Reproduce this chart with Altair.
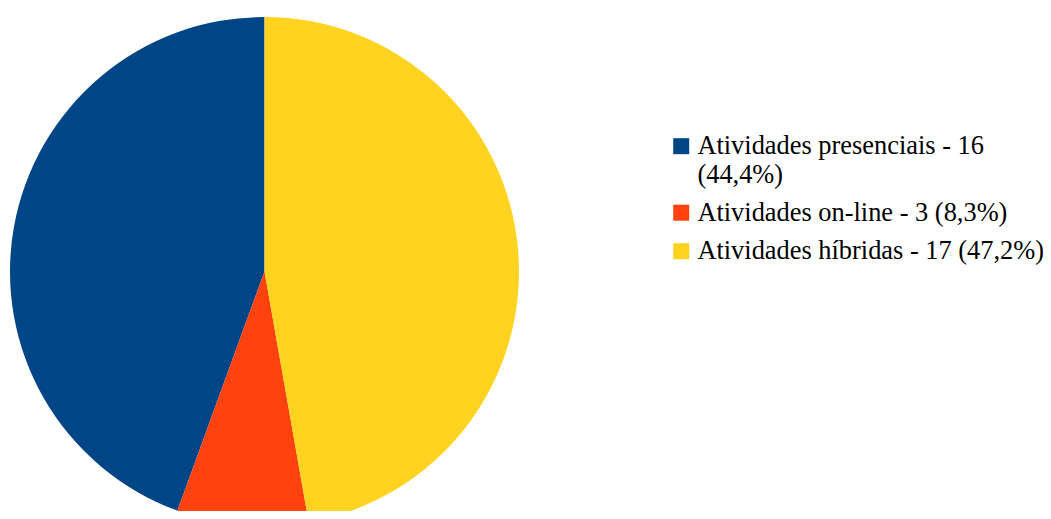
import altair as alt
import pandas as pd

categorias = [
    "Atividades presenciais - 16\n(44,4%)",
    "Atividades on-line - 3 (8,3%)",
    "Atividades híbridas - 17 (47,2%)",
]
quantidades = [16, 3, 17]
ordem_fatias = [3, 2, 1]
cores = ["#004586", "#ff420e", "#ffd320"]

df = pd.DataFrame({"categoria": categorias, "quantidade": quantidades, "ordem": ordem_fatias})

chart = (
    alt.Chart(df)
    .mark_arc(outerRadius=254.5, strokeWidth=0)
    .encode(
        theta=alt.Theta("quantidade:Q", stack=True),
        color=alt.Color(
            "categoria:N",
            scale=alt.Scale(domain=categorias, range=cores),
            legend=alt.Legend(
                title=None,
                orient="none",
                legendX=660,
                legendY=125,
                padding=0,
                symbolType="square",
                symbolSize=256,
                symbolStrokeWidth=0,
                labelFont="Times New Roman",
                labelFontSize=26.4,
                labelColor="#000000",
                labelLimit=500,
                labelOffset=3,
                labelBaseline="middle",
                labelExpr="split(datum.label, '\\n')",
                rowPadding=11.5,
            ),
        ),
        order=alt.Order("ordem:Q"),
        x=alt.value(256.5),
        y=alt.value(263.5),
    )
    .properties(width=1035, height=503, autosize="none", padding=0)
    .configure_view(stroke=None)
)

chart.save("out.html", embed_options={"renderer": "svg", "actions": False})
